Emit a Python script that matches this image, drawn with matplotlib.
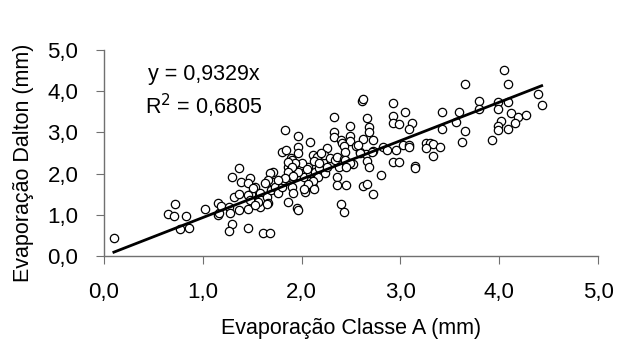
import matplotlib
matplotlib.use("Agg")
import matplotlib.pyplot as plt
from matplotlib.ticker import FuncFormatter
import numpy as np

plt.rcParams['font.family'] = ['Liberation Sans', 'DejaVu Sans']

# Evaporação Classe A (x) and Evaporação Dalton (y), mm
x_classe_a = [
    0.10, 0.65, 0.71, 0.72, 0.83, 0.77, 0.86,
    1.02, 1.15, 1.15, 1.16, 1.18, 1.27, 1.28, 1.30, 1.27,
    1.37, 1.30, 1.39, 1.32, 1.37, 1.37, 1.46, 1.46,
    1.48, 1.46, 1.49, 1.53, 1.58, 1.61, 1.68,
    1.53, 1.58, 1.59, 1.65, 1.66, 1.69, 1.71, 1.71, 1.68, 1.66, 1.73, 1.76, 1.80, 1.81,
    1.86, 1.90, 1.91, 1.86, 1.89, 1.95, 1.99, 1.96, 2.02, 2.06, 2.05, 2.03, 2.10, 2.12,
    2.08, 2.14, 2.17, 2.18, 2.22, 2.24, 1.89,
    1.51, 1.46, 1.56, 1.48, 1.53, 1.65, 1.63,
    1.86, 1.95, 1.96,
    2.12, 2.06, 2.02, 2.13,
    1.83, 1.96, 2.09, 1.80, 1.84, 1.96, 1.96, 2.26,
    1.90, 2.00, 1.93, 1.86, 2.05, 1.96, 1.90, 1.86, 1.91, 1.83, 1.76,
    2.12, 2.16, 2.13, 2.18, 2.23, 2.29, 2.26, 2.34, 2.36, 2.38, 2.43, 2.45, 2.52, 2.59,
    2.65, 2.66, 2.68, 2.20,
    2.33, 2.33, 2.33, 2.49, 2.49, 2.49, 2.68, 2.68, 2.62, 2.72, 2.40, 2.41, 2.43, 2.55,
    2.72, 2.82, 2.86, 2.96, 2.44, 2.59, 2.71,
    2.61, 2.62, 2.93, 3.05, 2.66, 2.93, 2.93, 2.99, 3.12, 3.09, 3.42, 3.42,
    2.57, 3.03, 3.09, 3.09,
    3.26, 3.30, 3.33, 3.40, 3.26, 3.33,
    2.44, 2.49, 2.93, 2.99, 3.15, 3.15, 2.80,
    2.36, 2.36, 2.45, 2.62, 2.66, 2.72, 2.40, 2.43,
    2.45,
    4.05, 3.65, 4.09, 4.39, 4.43, 3.80, 3.80, 3.99, 3.99, 4.09, 3.59, 3.56, 3.65, 3.62,
    4.12, 4.19, 4.27, 4.16, 4.02, 3.99, 3.99, 4.09, 3.93,
]
y_dalton = [
    0.44, 1.02, 0.98, 1.26, 0.98, 0.65, 0.67,
    1.13, 1.29, 1.00, 1.05, 1.22, 1.20, 1.05, 0.77, 0.61,
    2.14, 1.92, 1.80, 1.44, 1.50, 1.12, 1.13, 0.67,
    1.89, 1.76, 1.50, 1.32, 1.20, 0.57, 0.57,
    1.68, 1.52, 1.36, 1.44, 1.28, 1.60, 1.80, 2.05, 2.01, 1.84, 1.68, 1.52, 1.68, 1.84,
    1.92, 1.68, 1.52, 2.17, 2.10, 2.09, 2.21, 1.97, 1.92, 2.17, 1.68, 1.56, 1.84, 1.68,
    2.01, 2.05, 1.92, 2.13, 2.29, 2.02, 2.37,
    1.64, 1.48, 1.32, 1.36, 1.24, 1.26, 1.76,
    1.30, 1.16, 1.12,
    1.82, 1.75, 1.62, 1.62,
    3.07, 2.92, 2.77, 2.53, 2.57, 2.64, 2.49, 2.61,
    2.33, 2.25, 2.25, 2.29, 2.10, 2.05, 2.17, 2.05, 1.94, 1.89, 1.84,
    2.45, 2.41, 2.31, 2.25, 2.45, 2.37, 2.17, 2.33, 2.41, 2.17, 2.35, 2.25, 2.23, 2.53,
    2.48, 2.31, 2.15, 2.49,
    3.38, 3.02, 2.90, 3.16, 2.92, 2.80, 3.12, 3.02, 2.84, 2.82, 2.82, 2.74, 2.67, 2.67,
    2.55, 2.64, 2.57, 2.57, 2.53, 2.51, 2.53,
    3.76, 3.80, 3.72, 3.50, 3.34, 3.40, 3.24, 3.20, 3.22, 3.08, 3.50, 3.08,
    2.69, 2.69, 2.69, 2.64,
    2.74, 2.75, 2.72, 2.64, 2.61, 2.43,
    2.33, 2.25, 2.29, 2.29, 2.18, 2.13, 1.97,
    1.91, 1.72, 1.72, 1.70, 1.75, 1.50, 1.26, 1.06,
    2.17,
    4.51, 4.17, 4.17, 3.93, 3.66, 3.77, 3.58, 3.75, 3.58, 3.73, 3.50, 3.26, 3.04, 2.77,
    3.48, 3.38, 3.42, 3.24, 3.28, 3.16, 3.06, 3.08, 2.82,
]
slope = 0.9329
r2 = 0.6805
ticks = [0.0, 1.0, 2.0, 3.0, 4.0, 5.0]

fig = plt.figure(figsize=(6.17, 3.47), dpi=100)
ax = fig.add_axes([104/617, 1-256/347, 494/617, 206/347])

ax.scatter(x_classe_a, y_dalton, s=36, facecolors='white', edgecolors='black',
           linewidths=0.9, zorder=3)
xl = np.array([min(x_classe_a), max(x_classe_a)])
ax.plot(xl, slope*xl, color='black', lw=2.0, zorder=4)

ax.set_xlim(0, 5)
ax.set_ylim(0, 5)
ax.set_xticks(ticks)
ax.set_yticks(ticks)
fmt = FuncFormatter(lambda v, p: f"{v:.1f}".replace('.', ','))
ax.xaxis.set_major_formatter(fmt)
ax.yaxis.set_major_formatter(fmt)
for s in ['top', 'right']:
    ax.spines[s].set_visible(False)
for s in ['left', 'bottom']:
    ax.spines[s].set_color('#707070')
    ax.spines[s].set_linewidth(1.0)
ax.tick_params(direction='out', length=5.5, color='#707070', labelsize=16)
ax.tick_params(axis='x', pad=13)
ax.tick_params(axis='y', pad=13)

ax.set_xlabel('Evaporação Classe A (mm)', fontsize=15.5)
ax.set_ylabel('Evaporação Dalton (mm)', fontsize=15.5)
ax.xaxis.set_label_coords(0.5, -0.30)
ax.yaxis.set_label_coords(-0.142, 0.45)

ax.text(0.45, 4.27, f"y = {slope:.4f}x".replace('.', ','), fontsize=15.5, ha='left')
ax.text(0.42, 3.43, f"R$^2$ = {r2:.4f}".replace('.', ','), fontsize=15.5, ha='left')

fig.savefig('out.png', dpi=100)
